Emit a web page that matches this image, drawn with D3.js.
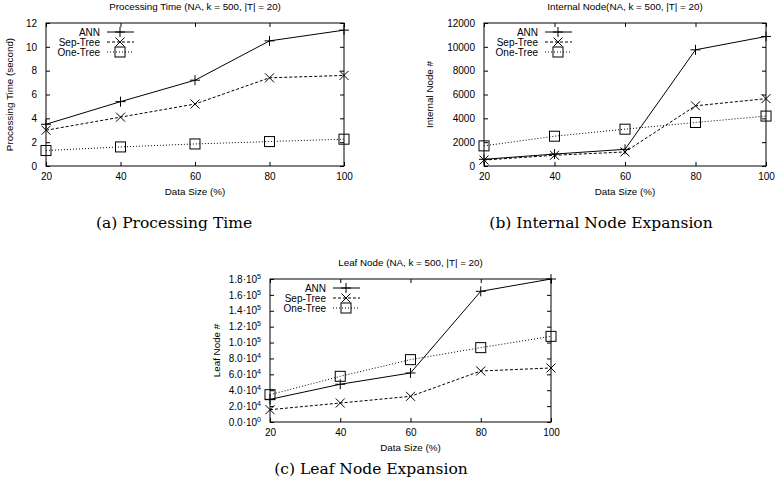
<!DOCTYPE html>
<html>
<head>
<meta charset="utf-8">
<script src="https://cdn.jsdelivr.net/npm/d3@7"></script>
<style>
  body { margin: 0; background: #fff; }
  svg { display: block; }
  .tick text { font-family: "Liberation Sans", Arial, sans-serif; font-size: 10px; }
</style>
</head>
<body>
<svg id="chart" width="775" height="492"></svg>
<script>
var dataSize = [20, 40, 60, 80, 100];
var seriesNames = ["ANN", "Sep-Tree", "One-Tree"];

// (a) processing time in seconds
var timeAnn = [3.5, 5.4, 7.2, 10.5, 11.4];
var timeSep = [3.0, 4.1, 5.2, 7.4, 7.6];
var timeOne = [1.3, 1.6, 1.85, 2.05, 2.25];

// (b) internal nodes
var internalAnn = [560, 1000, 1400, 9750, 10870];
var internalSep = [500, 900, 1180, 5050, 5650];
var internalOne = [1690, 2500, 3090, 3650, 4190];

// (c) leaf nodes
var leafAnn = [28500, 47500, 61700, 164500, 180000];
var leafSep = [15500, 23900, 32300, 64200, 68000];
var leafOne = [34400, 57500, 78500, 93600, 107800];

var timeTicks = [0, 2, 4, 6, 8, 10, 12];
var internalTicks = [0, 2000, 4000, 6000, 8000, 10000, 12000];
var leafTicks = [0, 20000, 40000, 60000, 80000, 100000, 120000, 140000, 160000, 180000];

var svg = d3.select("#chart");
var sans = "'Liberation Sans', Arial, sans-serif";
var serif = "'DejaVu Serif', 'Liberation Serif', serif";
var dashes = ["none", "3,2", "1,2"];

function drawMarker(g, kind, cx, cy) {
  if (kind == 0) {
    g.append("path").attr("d", "M" + (cx - 5) + "," + cy + "h10M" + cx + "," + (cy - 5) + "v10")
      .attr("stroke", "#000").attr("fill", "none");
  } else if (kind == 1) {
    g.append("path").attr("d", "M" + (cx - 4.5) + "," + (cy - 4.5) + "l9,9M" + (cx - 4.5) + "," + (cy + 4.5) + "l9,-9")
      .attr("stroke", "#000").attr("fill", "none");
  } else {
    g.append("rect").attr("x", cx - 5).attr("y", cy - 5).attr("width", 10).attr("height", 10)
      .attr("stroke", "#000").attr("fill", "none");
  }
}

function sciLabel(sel) {
  sel.each(function (d) {
    var t = d3.select(this).text("");
    var exp = d == 0 ? 0 : Math.floor(Math.log10(d));
    var mant = d == 0 ? 0 : d / Math.pow(10, exp);
    t.append("tspan").text(mant.toFixed(1) + "\u00b710");
    t.append("tspan").attr("dy", -4).attr("font-size", "7px").text(exp);
  });
}

function drawPanel(p) {
  var x = d3.scaleLinear().domain([20, 100]).range([p.left, p.right]);
  var y = d3.scaleLinear().domain([0, p.ymax]).range([p.bottom, p.top]);
  var g = svg.append("g");

  g.append("g").attr("transform", "translate(0," + p.bottom + ")")
    .call(d3.axisBottom(x).tickValues(dataSize).tickSizeInner(-4).tickSizeOuter(0).tickPadding(7))
    .call(function (a) { a.select(".domain").remove(); });
  g.append("g").attr("transform", "translate(0," + p.top + ")")
    .call(d3.axisTop(x).tickValues(dataSize).tickSizeInner(-4).tickSizeOuter(0).tickFormat(""))
    .call(function (a) { a.select(".domain").remove(); });

  var yl = g.append("g").attr("transform", "translate(" + p.left + ",0)")
    .call(d3.axisLeft(y).tickValues(p.ticks).tickFormat(d3.format("d")).tickSizeInner(-4).tickSizeOuter(0).tickPadding(9))
    .call(function (a) { a.select(".domain").remove(); });
  if (p.sci) yl.selectAll(".tick text").call(sciLabel);
  g.append("g").attr("transform", "translate(" + p.right + ",0)")
    .call(d3.axisRight(y).tickValues(p.ticks).tickSizeInner(-4).tickSizeOuter(0).tickFormat(""))
    .call(function (a) { a.select(".domain").remove(); });

  g.append("rect").attr("x", p.left).attr("y", p.top)
    .attr("width", p.right - p.left).attr("height", p.bottom - p.top)
    .attr("fill", "none").attr("stroke", "#000");

  var line = d3.line().x(function (d, i) { return x(dataSize[i]); }).y(function (d) { return y(d); });
  p.series.forEach(function (s, k) {
    g.append("path").datum(s).attr("d", line)
      .attr("fill", "none").attr("stroke", "#000").attr("stroke-width", 1)
      .attr("stroke-dasharray", dashes[k]);
    s.forEach(function (v, i) { drawMarker(g, k, x(dataSize[i]), y(v)); });
  });

  // legend
  seriesNames.forEach(function (name, k) {
    var ly = p.legY + k * 10;
    g.append("text").attr("x", p.legX).attr("y", ly).attr("dy", "0.35em")
      .attr("text-anchor", "end").attr("font-family", sans).attr("font-size", "10px").text(name);
    g.append("line").attr("x1", p.legX + 7).attr("x2", p.legX + 34).attr("y1", ly).attr("y2", ly)
      .attr("stroke", "#000").attr("stroke-dasharray", dashes[k]);
    drawMarker(g, k, p.legX + 20, ly);
  });

  g.append("text").attr("x", (p.left + p.right) / 2).attr("y", p.top - 16).attr("dy", "0.35em")
    .attr("text-anchor", "middle").attr("font-family", sans).attr("font-size", "9.8px").text(p.title);
  g.append("text").attr("x", (p.left + p.right) / 2).attr("y", p.bottom + 26).attr("dy", "0.35em")
    .attr("text-anchor", "middle").attr("font-family", sans).attr("font-size", "9.8px").text("Data Size (%)");
  g.append("text").attr("transform", "translate(" + p.ylabX + "," + (p.top + p.bottom) / 2 + ") rotate(-90)")
    .attr("dy", "0.35em").attr("text-anchor", "middle").attr("font-family", sans).attr("font-size", "9.8px")
    .text(p.ylabel);
  g.append("text").attr("x", p.capX).attr("y", p.capY).attr("dy", "0.35em")
    .attr("text-anchor", "middle").attr("font-family", serif).attr("font-size", "15.5px").text(p.caption);
}

drawPanel({
  left: 46, right: 344, top: 23, bottom: 166, ymax: 12, ticks: timeTicks,
  series: [timeAnn, timeSep, timeOne], legX: 100, legY: 32, ylabX: 10,
  title: "Processing Time (NA, k = 500, |T| = 20)", ylabel: "Processing Time (second)",
  caption: "(a)  Processing Time", capX: 174, capY: 223
});
drawPanel({
  left: 484, right: 766, top: 23, bottom: 166, ymax: 12000, ticks: internalTicks,
  series: [internalAnn, internalSep, internalOne], legX: 538, legY: 32, ylabX: 430,
  title: "Internal Node(NA, k = 500, |T| = 20)", ylabel: "Internal Node #",
  caption: "(b)  Internal Node Expansion", capX: 601, capY: 223
});
drawPanel({
  left: 270, right: 551, top: 279, bottom: 422, ymax: 180000, ticks: leafTicks, sci: true,
  series: [leafAnn, leafSep, leafOne], legX: 326, legY: 288, ylabX: 217,
  title: "Leaf Node (NA, k = 500, |T| = 20)", ylabel: "Leaf Node #",
  caption: "(c)  Leaf Node Expansion", capX: 371, capY: 469
});
</script>
</body>
</html>
